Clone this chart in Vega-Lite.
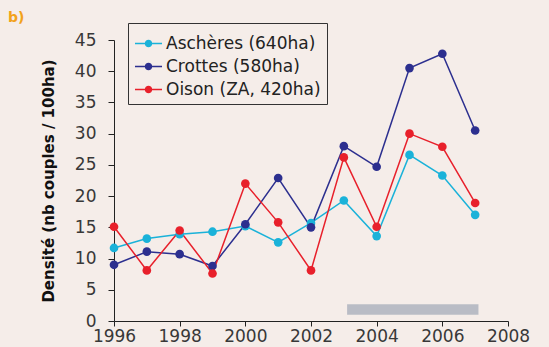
{
  "$schema": "https://vega.github.io/schema/vega-lite/v6.json",
  "width": 394,
  "height": 281,
  "autosize": {"type": "none"},
  "padding": {"left": 114, "top": 40, "right": 41, "bottom": 26},
  "background": "#f5ede9",
  "config": {"view": {"stroke": null}, "font": "DejaVu Sans"},
  "title": {"text": "b)", "anchor": "start", "frame": "group", "dx": -106, "dy": 18, "offset": 16, "fontSize": 14, "fontWeight": "bold", "color": "#f2a21b", "font": "DejaVu Sans"},
  "datasets": {
    "series": [
      {"site": "Aschères (640ha)", "year": 1996, "d": 11.7},
      {"site": "Aschères (640ha)", "year": 1997, "d": 13.2},
      {"site": "Aschères (640ha)", "year": 1998, "d": 13.9},
      {"site": "Aschères (640ha)", "year": 1999, "d": 14.3},
      {"site": "Aschères (640ha)", "year": 2000, "d": 15.2},
      {"site": "Aschères (640ha)", "year": 2001, "d": 12.6},
      {"site": "Aschères (640ha)", "year": 2002, "d": 15.7},
      {"site": "Aschères (640ha)", "year": 2003, "d": 19.3},
      {"site": "Aschères (640ha)", "year": 2004, "d": 13.6},
      {"site": "Aschères (640ha)", "year": 2005, "d": 26.6},
      {"site": "Aschères (640ha)", "year": 2006, "d": 23.3},
      {"site": "Aschères (640ha)", "year": 2007, "d": 17.0},
      {"site": "Crottes (580ha)", "year": 1996, "d": 9.0},
      {"site": "Crottes (580ha)", "year": 1997, "d": 11.1},
      {"site": "Crottes (580ha)", "year": 1998, "d": 10.7},
      {"site": "Crottes (580ha)", "year": 1999, "d": 8.8},
      {"site": "Crottes (580ha)", "year": 2000, "d": 15.5},
      {"site": "Crottes (580ha)", "year": 2001, "d": 22.9},
      {"site": "Crottes (580ha)", "year": 2002, "d": 15.0},
      {"site": "Crottes (580ha)", "year": 2003, "d": 28.0},
      {"site": "Crottes (580ha)", "year": 2004, "d": 24.7},
      {"site": "Crottes (580ha)", "year": 2005, "d": 40.5},
      {"site": "Crottes (580ha)", "year": 2006, "d": 42.8},
      {"site": "Crottes (580ha)", "year": 2007, "d": 30.5},
      {"site": "Oison (ZA, 420ha)", "year": 1996, "d": 15.1},
      {"site": "Oison (ZA, 420ha)", "year": 1997, "d": 8.1},
      {"site": "Oison (ZA, 420ha)", "year": 1998, "d": 14.5},
      {"site": "Oison (ZA, 420ha)", "year": 1999, "d": 7.6},
      {"site": "Oison (ZA, 420ha)", "year": 2000, "d": 22.0},
      {"site": "Oison (ZA, 420ha)", "year": 2001, "d": 15.8},
      {"site": "Oison (ZA, 420ha)", "year": 2002, "d": 8.1},
      {"site": "Oison (ZA, 420ha)", "year": 2003, "d": 26.2},
      {"site": "Oison (ZA, 420ha)", "year": 2004, "d": 15.1},
      {"site": "Oison (ZA, 420ha)", "year": 2005, "d": 30.0},
      {"site": "Oison (ZA, 420ha)", "year": 2006, "d": 27.9},
      {"site": "Oison (ZA, 420ha)", "year": 2007, "d": 18.9}
    ],
    "bar": [{"x0": 2003.1, "x1": 2007.1, "y0": 1.0, "y1": 2.7}]
  },
  "layer": [
    {
      "data": {"name": "series"},
      "mark": {"type": "line", "strokeWidth": 1.5, "point": {"filled": true, "size": 75, "opacity": 1}},
      "encoding": {
        "x": {
          "field": "year", "type": "quantitative",
          "scale": {"domain": [1996, 2008], "nice": false, "zero": false},
          "axis": {"title": null, "values": [1996, 1998, 2000, 2002, 2004, 2006, 2008], "format": "d", "grid": false, "labelOverlap": false,
            "domainColor": "#222", "tickColor": "#222", "tickSize": 5, "labelFontSize": 17, "labelColor": "#383838", "labelPadding": 2, "labelFlush": false}
        },
        "y": {
          "field": "d", "type": "quantitative",
          "scale": {"domain": [0, 45], "nice": false},
          "axis": {"title": "Densité (nb couples / 100ha)", "values": [0, 5, 10, 15, 20, 25, 30, 35, 40, 45], "tickCount": 10, "grid": false, "labelOverlap": false, "labelBound": false,
            "domainColor": "#222", "tickColor": "#222", "tickSize": 6, "labelFontSize": 17, "labelColor": "#383838", "labelPadding": 12,
            "titleFontSize": 15, "titleFontWeight": "bold", "titleColor": "#111", "titlePadding": 18}
        },
        "color": {
          "field": "site", "type": "nominal",
          "scale": {"domain": ["Aschères (640ha)", "Crottes (580ha)", "Oison (ZA, 420ha)"], "range": ["#1ab2d9", "#2c2f8f", "#e8202b"]},
          "legend": {
            "title": null, "orient": "none", "legendX": 14, "legendY": -17,
            "strokeColor": "#333", "padding": 6, "labelFontSize": 17, "labelColor": "#222",
            "symbolType": "M-1,0H1M0.22,0A0.22,0.22 0 1,1 -0.22,0A0.22,0.22 0 1,1 0.22,0Z",
            "symbolSize": 730, "symbolStrokeWidth": 1.5, "rowPadding": 0, "labelOffset": 3
          }
        }
      }
    },
    {
      "data": {"name": "bar"},
      "mark": {"type": "rect", "color": "#b9bcc5"},
      "encoding": {
        "x": {"field": "x0", "type": "quantitative", "axis": {"values": [1996, 1998, 2000, 2002, 2004, 2006, 2008]}},
        "x2": {"field": "x1"},
        "y": {"field": "y0", "type": "quantitative", "axis": {"values": [0, 5, 10, 15, 20, 25, 30, 35, 40, 45]}},
        "y2": {"field": "y1"}
      }
    }
  ]
}
